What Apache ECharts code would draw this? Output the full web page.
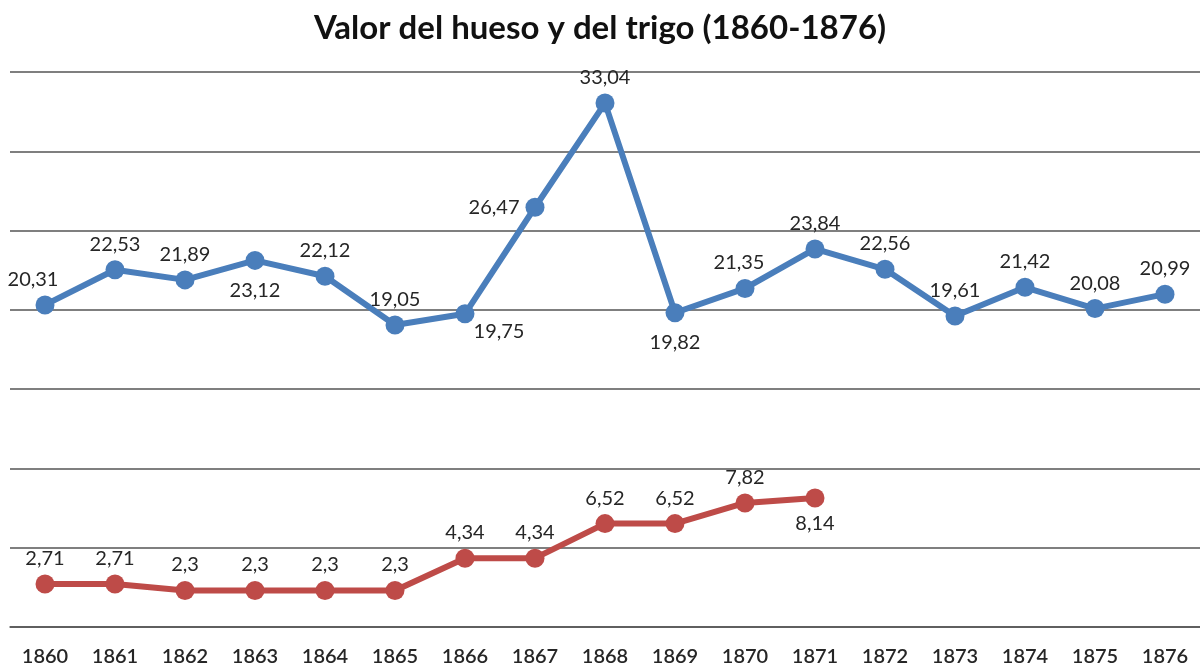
<!DOCTYPE html>
<html>
<head>
<meta charset="utf-8">
<script src="https://cdn.jsdelivr.net/npm/echarts@6/dist/echarts.min.js"></script>
<style>html,body{margin:0;padding:0;background:#fff}#c{width:1200px;height:668px}</style>
</head>
<body>
<div id="c"></div>
<script>
var years = ['1860','1861','1862','1863','1864','1865','1866','1867','1868','1869','1870','1871','1872','1873','1874','1875','1876'];
var trigo = [20.31, 22.53, 21.89, 23.12, 22.12, 19.05, 19.75, 26.47, 33.04, 19.82, 21.35, 23.84, 22.56, 19.61, 21.42, 20.08, 20.99];
var hueso = [2.71, 2.71, 2.3, 2.3, 2.3, 2.3, 4.34, 4.34, 6.52, 6.52, 7.82, 8.14, null, null, null, null, null];
var yTicks = [0, 5, 10, 15, 20, 25, 30, 35];

// label placement (style only)
var trigoLabelPos = ['top','top','top','bottom','top','top','bottom','left','top','bottom','top','top','top','top','top','top','top'];
var trigoLabelOff = [[-12,0],[0,0],[0,0],[0,5],[0,0],[0,0],[34,-8],[0,0],[0,0],[0,4],[-6,0],[0,0],[0,0],[0,0],[0,0],[0,0],[0,0]];
var huesoLabelPos = ['top','top','top','top','top','top','top','top','top','top','top','bottom'];

function fmt(v){ return String(v).replace('.', ','); }

function build(vals, pos, off){
  return vals.map(function(v, i){
    if (v === null) return null;
    var o = {value: v};
    if (pos && pos[i]) o.label = {position: pos[i], offset: (off && off[i]) ? off[i] : [0,0]};
    return o;
  });
}

var chart = echarts.init(document.getElementById('c'));
var labelStyle = {show: true, distance: 6, fontFamily: 'Lato', fontSize: 20, color: '#262626', formatter: function(p){ return fmt(p.value); }};
chart.setOption({
  animation: false,
  title: {text: 'Valor del hueso y del trigo (1860-1876)', left: 'center', top: 7,
    textStyle: {fontFamily: 'Lato', fontWeight: 'bold', fontSize: 33, color: '#111'}},
  grid: {left: 10, right: 0, top: 72, bottom: 41, containLabel: false},
  xAxis: {type: 'category', data: years, boundaryGap: true,
    axisLine: {show: true, lineStyle: {color: '#555', width: 1.5}},
    axisTick: {show: false},
    axisLabel: {margin: 20, fontFamily: 'Lato', fontSize: 20, color: '#262626', fontWeight: 600}},
  yAxis: {type: 'value', min: yTicks[0], max: yTicks[yTicks.length-1], interval: 5,
    axisLabel: {show: false}, axisLine: {show: false}, axisTick: {show: false},
    splitLine: {show: true, lineStyle: {color: '#555', width: 1.5}}},
  series: [
    {name: 'Trigo', type: 'line', data: build(trigo, trigoLabelPos, trigoLabelOff),
     symbol: 'circle', symbolSize: 19, lineStyle: {width: 6, color: '#4A7EBB'},
     itemStyle: {color: '#4A7EBB'}, label: labelStyle},
    {name: 'Hueso', type: 'line', data: build(hueso, huesoLabelPos), connectNulls: false,
     symbol: 'circle', symbolSize: 19, lineStyle: {width: 6, color: '#BE4B48'},
     itemStyle: {color: '#BE4B48'}, label: labelStyle}
  ]
});
</script>
</body>
</html>
